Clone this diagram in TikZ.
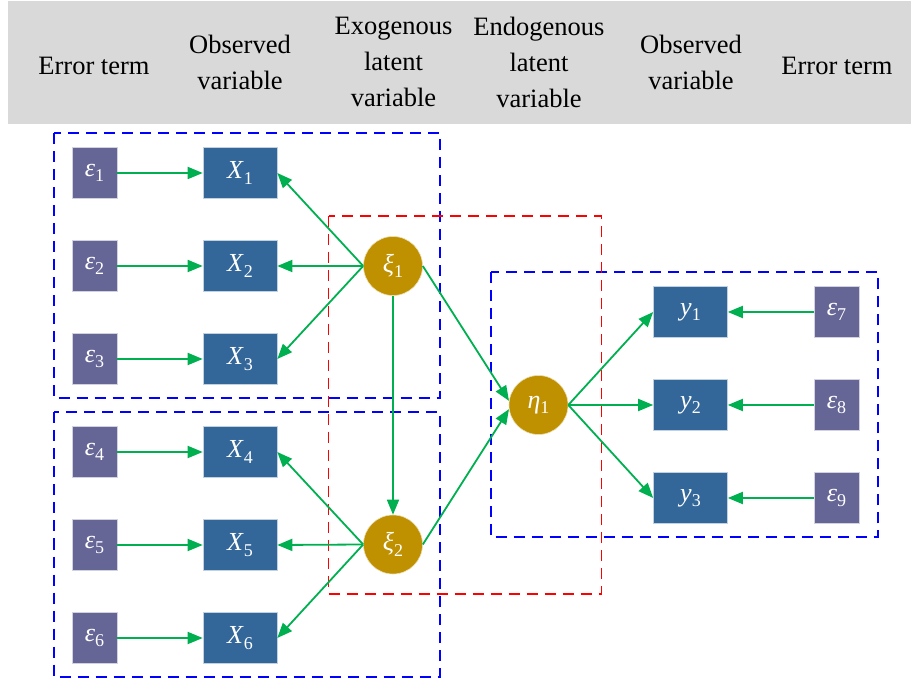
\documentclass[tikz,border=0pt]{standalone}
\usepackage{fontspec}
\setmainfont{Liberation Serif}
\usetikzlibrary{arrows.meta}
\definecolor{hdr}{HTML}{D9D9D9}
\definecolor{errc}{HTML}{656596}
\definecolor{obsc}{HTML}{336699}
\definecolor{latc}{HTML}{BF9000}
\definecolor{arrc}{HTML}{00B050}
\definecolor{fblue}{HTML}{0000FF}
\definecolor{fred}{HTML}{FF0000}
\newcommand{\sv}[2]{\textit{#1}\raisebox{-0.22em}{\fontsize{18}{18}\selectfont #2}}
\begin{document}
\begin{tikzpicture}[x=1pt,y=-1pt,
  hdrtext/.style={font=\fontsize{26.5}{36}\selectfont, align=center, text=black, inner sep=0pt},
  errbox/.style={draw=white!70!errc, line width=0.6pt, fill=errc, minimum width=45pt, minimum height=51pt, inner sep=0pt, text=white, font=\fontsize{26}{26}\selectfont},
  obsbox/.style={draw=white!70!obsc, line width=0.6pt, fill=obsc, minimum width=74pt, minimum height=51pt, inner sep=0pt, text=white, font=\fontsize{26}{26}\selectfont},
  latnode/.style={circle, draw=white!70!latc, line width=0.6pt, fill=latc, minimum size=59pt, inner sep=0pt, text=white, font=\fontsize{26}{26}\selectfont},
  link/.style={draw=arrc, line width=1.8pt, -{Triangle[length=15pt,width=12pt]}},
  bframe/.style={draw=fblue, line width=2pt, dash pattern=on 11pt off 7pt},
  rframe/.style={draw=fred, line width=1.6pt, dash pattern=on 11pt off 7pt}]
\useasboundingbox (0,0) rectangle (911,684);
\fill[hdr] (7.5,1.5) rectangle (911,124.5);
% header
\node[hdrtext] (h1) at (94,66) {Error term};
\node[hdrtext] (h2) at (240,62) {Observed\\variable};
\node[hdrtext] (h3) at (393.5,62) {Exogenous\\latent\\variable};
\node[hdrtext] (h4) at (539,62) {Endogenous\\latent\\variable};
\node[hdrtext] (h5) at (691,62) {Observed\\variable};
\node[hdrtext] (h6) at (837,66) {Error term};
% frames
\draw[bframe] (53.5,133.5) rectangle (440,398.5);
\draw[bframe] (53.5,412.5) rectangle (440,676.5);
\draw[bframe] (490.5,272.5) rectangle (877.5,537.5);
\draw[rframe] (328.5,216) rectangle (601.5,594);
% error terms left
\node[errbox] (e1) at (94.5,173) {\sv{ε}{1}};
\node[errbox] (e2) at (94.5,266) {\sv{ε}{2}};
\node[errbox] (e3) at (94.5,359) {\sv{ε}{3}};
\node[errbox] (e4) at (94.5,452) {\sv{ε}{4}};
\node[errbox] (e5) at (94.5,545) {\sv{ε}{5}};
\node[errbox] (e6) at (94.5,638) {\sv{ε}{6}};
% observed left
\node[obsbox] (x1) at (240,173) {\sv{X}{1}};
\node[obsbox] (x2) at (240,266) {\sv{X}{2}};
\node[obsbox] (x3) at (240,359) {\sv{X}{3}};
\node[obsbox] (x4) at (240,452) {\sv{X}{4}};
\node[obsbox] (x5) at (240,545) {\sv{X}{5}};
\node[obsbox] (x6) at (240,638) {\sv{X}{6}};
% latent
\node[latnode] (xi1) at (393,266) {\sv{ξ}{1}};
\node[latnode] (xi2) at (393,544.5) {\sv{ξ}{2}};
\node[latnode] (eta) at (538.5,405) {\sv{η}{1}};
% observed right
\node[obsbox] (y1) at (690.5,312) {\sv{y}{1}};
\node[obsbox] (y2) at (690.5,405) {\sv{y}{2}};
\node[obsbox] (y3) at (690.5,498) {\sv{y}{3}};
% error terms right
\node[errbox] (e7) at (836.5,312) {\sv{ε}{7}};
\node[errbox] (e8) at (836.5,405) {\sv{ε}{8}};
\node[errbox] (e9) at (836.5,498) {\sv{ε}{9}};
% connectors
\foreach \i in {1,...,6}{\draw[link] (e\i.east) -- (x\i.west);}
\foreach \i in {1,2,3}{\draw[link] (xi1.west) -- (x\i.east);}
\foreach \i in {4,5,6}{\draw[link] (xi2.west) -- (x\i.east);}
\draw[link] (xi1.south) -- (xi2.north);
\draw[link] (xi1.east) -- (eta.172);
\draw[link] (xi2.east) -- (eta.188);
\foreach \i in {1,2,3}{\draw[link] (eta.east) -- (y\i.west);}
\draw[link] (e7.west) -- (y1.east);
\draw[link] (e8.west) -- (y2.east);
\draw[link] (e9.west) -- (y3.east);
\end{tikzpicture}
\end{document}
